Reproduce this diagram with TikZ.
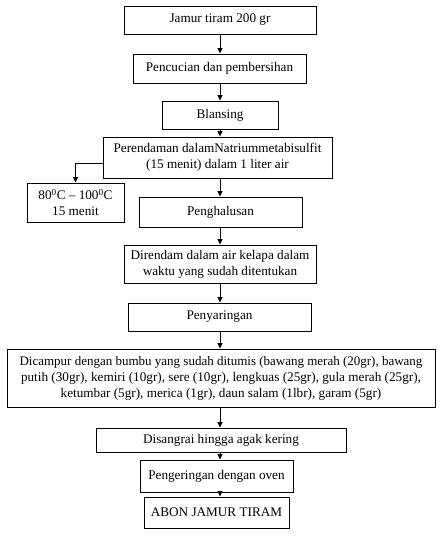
\documentclass[tikz,border=0pt]{standalone}
\usepackage{fontspec}
\setmainfont{Liberation Serif}
\usetikzlibrary{arrows.meta}
\begin{document}
\begin{tikzpicture}[x=1pt,y=-1pt,
  box/.style={draw,line width=0.9pt,inner sep=0pt,align=center,font=\fontsize{13.2}{16}\selectfont},
  arr/.style={line width=0.9pt,-{Triangle[length=5.5pt,width=5pt]}}]
\useasboundingbox (0,0) rectangle (447,541);
\node[box,minimum width=192,minimum height=28] (j) at (220,20) {Jamur tiram 200 gr};
\node[box,minimum width=173,minimum height=29] (p) at (219.5,68.5) {Pencucian dan pembersihan};
\node[box,minimum width=116,minimum height=28] (b) at (220,115) {Blansing};
\node[box,minimum width=229,minimum height=41] (r) at (217.5,157.5) {Perendaman dalamNatriummetabisulfit\\(15 menit) dalam 1 liter air};
\node[box,minimum width=97,minimum height=39] (t) at (75.5,202.5) {80\textsuperscript{0}C -- 100\textsuperscript{0}C\\15 menit};
\node[box,minimum width=163,minimum height=30] (h) at (220.5,212) {Penghalusan};
\node[box,minimum width=192,minimum height=38] (d) at (220,264) {Direndam dalam air kelapa dalam\\waktu yang sudah ditentukan};
\node[box,minimum width=183,minimum height=28] (s) at (219.5,317) {Penyaringan};
\node[box,minimum width=428,minimum height=58] (c) at (221,378) {\fontsize{13}{16}\selectfont Dicampur dengan bumbu yang sudah ditumis (bawang merah (20gr), bawang\\putih (30gr), kemiri (10gr), sere (10gr), lengkuas (25gr), gula merah (25gr),\\ketumbar (5gr), merica (1gr), daun salam (1lbr), garam (5gr)};
\node[box,minimum width=250,minimum height=24] (g) at (221,440) {Disangrai hingga agak kering};
\node[box,minimum width=153,minimum height=32] (o) at (216.5,476) {Pengeringan dengan oven};
\node[box,minimum width=145,minimum height=31] (a) at (216.5,512.5) {ABON JAMUR TIRAM};
\coordinate (ax) at (220,0);
\draw[arr] (ax |- j.south) -- (ax |- p.north);
\draw[arr] (ax |- p.south) -- (ax |- b.north);
\draw[arr] (ax |- b.south) -- (ax |- r.north);
\draw[arr] (ax |- r.south) -- (ax |- h.north);
\draw[arr] (ax |- h.south) -- (ax |- d.north);
\draw[arr] (ax |- d.south) -- (ax |- s.north);
\draw[arr] (ax |- s.south) -- (ax |- c.north);
\draw[arr] (ax |- c.south) -- (ax |- g.north);
\draw[arr] (ax |- g.south) -- (ax |- o.north);
\draw[arr] (ax |- o.south) -- (ax |- a.north);
\draw[arr] ([yshift=-5.5pt]r.west) -| (t.north);
\end{tikzpicture}
\end{document}
